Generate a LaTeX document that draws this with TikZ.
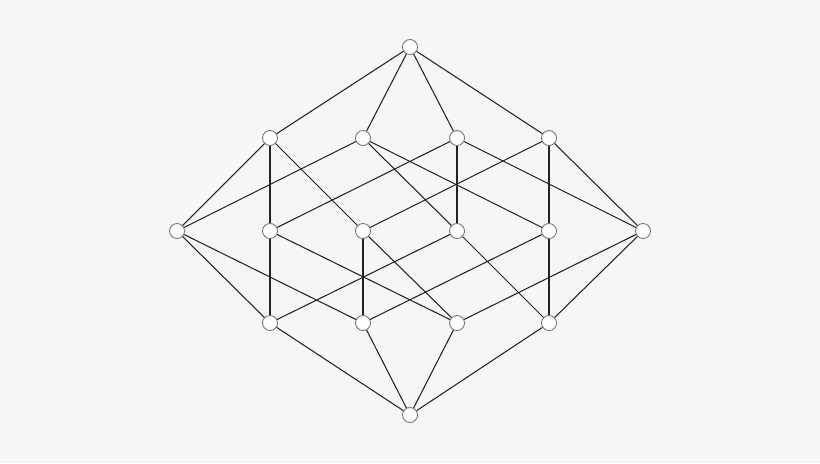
\documentclass[tikz,border=0pt]{standalone}
\usepackage{tikz}
\definecolor{paper}{RGB}{246,246,246}
\definecolor{edgegray}{RGB}{35,35,35}
\tikzset{
	elem/.style={circle, draw=black!55, fill=white, line width=0.75pt, minimum size=0.45cm, inner sep=0pt},
	link/.style={draw=edgegray, line width=0.9pt}
}

\begin{document}
\begin{tikzpicture}[x=0.03cm, y=-0.03cm]
			%%%%% START %%%%%
			
			\fill[paper] (0, 0) rectangle (820, 463);
			
			% top and bottom
			\node[elem] (top) at (410, 47) {};
			\node[elem] (bot) at (410, 415) {};
			
			% rank one
			\node[elem] (a1) at (270, 138) {};
			\node[elem] (a2) at (363, 138) {};
			\node[elem] (a3) at (457, 138) {};
			\node[elem] (a4) at (549, 138) {};
			
			% rank two
			\node[elem] (b1) at (177, 231) {};
			\node[elem] (b2) at (270, 231) {};
			\node[elem] (b3) at (363, 231) {};
			\node[elem] (b4) at (457, 231) {};
			\node[elem] (b5) at (549, 231) {};
			\node[elem] (b6) at (643, 231) {};
			
			% rank three
			\node[elem] (c1) at (270, 323) {};
			\node[elem] (c2) at (363, 323) {};
			\node[elem] (c3) at (457, 323) {};
			\node[elem] (c4) at (549, 323) {};
			
			\draw[link] (top) -- (a1);
			\draw[link] (top) -- (a2);
			\draw[link] (top) -- (a3);
			\draw[link] (top) -- (a4);
			
			\draw[link] (a1) -- (b1);
			\draw[link] (a1) -- (b2);
			\draw[link] (a1) -- (b3);
			\draw[link] (a2) -- (b1);
			\draw[link] (a2) -- (b4);
			\draw[link] (a2) -- (b5);
			\draw[link] (a3) -- (b2);
			\draw[link] (a3) -- (b4);
			\draw[link] (a3) -- (b6);
			\draw[link] (a4) -- (b3);
			\draw[link] (a4) -- (b5);
			\draw[link] (a4) -- (b6);
			
			\draw[link] (b1) -- (c1);
			\draw[link] (b1) -- (c2);
			\draw[link] (b2) -- (c1);
			\draw[link] (b2) -- (c3);
			\draw[link] (b3) -- (c2);
			\draw[link] (b3) -- (c3);
			\draw[link] (b4) -- (c1);
			\draw[link] (b4) -- (c4);
			\draw[link] (b5) -- (c2);
			\draw[link] (b5) -- (c4);
			\draw[link] (b6) -- (c3);
			\draw[link] (b6) -- (c4);
			
			\draw[link] (c1) -- (bot);
			\draw[link] (c2) -- (bot);
			\draw[link] (c3) -- (bot);
			\draw[link] (c4) -- (bot);
			
			%%%%% END %%%%%
\end{tikzpicture}
\end{document}
